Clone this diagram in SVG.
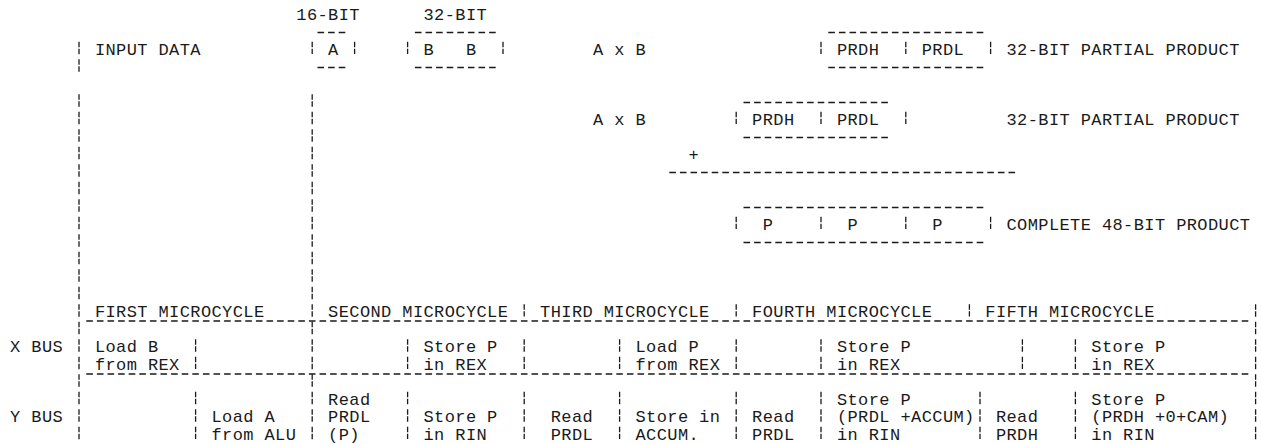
<svg xmlns="http://www.w3.org/2000/svg" width="1261" height="444" viewBox="0 0 1261 444">
<style>
text{font-family:"Liberation Mono","Courier New",monospace;font-size:17px;letter-spacing:0.4px;fill:#1a1a1a}
.h{stroke:#1a1a1a;stroke-width:1.4;stroke-dasharray:6.6 4;fill:none}
.v{stroke:#1a1a1a;stroke-width:1.3;stroke-dasharray:5.5 1.5 5.5 5;fill:none}
</style>
<rect width="1261" height="444" fill="#fff"/>
<g id="connectors">
<path class="v" d="M79 41.75V73.25M79 94.25V447"/>
<path class="v" d="M312.2 94.25V447"/>
</g>
<g id="width-labels">
<text x="296.3" y="19.5">16-BIT</text>
<text x="423.5" y="19.5">32-BIT</text>
</g>
<g id="input-data">
<text x="94.9" y="54.5">INPUT DATA</text>
</g>
<g id="box-a">
<path class="h" d="M317.5 32.5H349M317.5 67.5H349"/>
<path class="v" d="M312.2 41.75V54M354.6 41.75V54"/>
<text x="328.1" y="54.5">A</text>
</g>
<g id="box-b">
<path class="h" d="M414.9 32.5H497M414.9 67.5H497"/>
<path class="v" d="M407.6 41.75V54M503 41.75V54"/>
<text x="423.5" y="54.5">B</text>
<text x="465.9" y="54.5">B</text>
</g>
<g id="axb-1">
<text x="593.1" y="54.5">A x B</text>
</g>
<g id="partial-1">
<path class="h" d="M828.3 32.5H986M828.3 67.5H986"/>
<path class="v" d="M821 41.75V54M905.8 41.75V54M990.6 41.75V54"/>
<text x="836.9" y="54.5">PRDH</text>
<text x="921.7" y="54.5">PRDL</text>
<text x="1006.5" y="54.5">32-BIT PARTIAL PRODUCT</text>
</g>
<g id="axb-2">
<text x="593.1" y="124.5">A x B</text>
</g>
<g id="partial-2">
<path class="h" d="M743.5 102.5H891M743.5 137.5H891"/>
<path class="v" d="M736.2 111.75V124M821 111.75V124M905.8 111.75V124"/>
<text x="752.1" y="124.5">PRDH</text>
<text x="836.9" y="124.5">PRDL</text>
<text x="1006.5" y="124.5">32-BIT PARTIAL PRODUCT</text>
</g>
<g id="sum">
<text x="688.5" y="159.5">+</text>
<path class="h" d="M669.3 172.5H1018"/>
</g>
<g id="product">
<path class="h" d="M743.5 207.5H986M743.5 242.5H986"/>
<path class="v" d="M736.2 216.75V229M821 216.75V229M905.8 216.75V229M990.6 216.75V229"/>
<text x="762.7" y="229.5">P</text>
<text x="847.5" y="229.5">P</text>
<text x="932.3" y="229.5">P</text>
<text x="1006.5" y="229.5">COMPLETE 48-BIT PRODUCT</text>
</g>
<g id="cycle-header">
<path class="v" d="M524.2 304.25V316.5M736.2 304.25V316.5M969.4 304.25V316.5M1255.6 304.25V447"/>
<text x="94.9" y="317">FIRST MICROCYCLE</text>
<text x="328.1" y="317">SECOND MICROCYCLE</text>
<text x="540.1" y="317">THIRD MICROCYCLE</text>
<text x="752.1" y="317">FOURTH MICROCYCLE</text>
<text x="985.3" y="317">FIFTH MICROCYCLE</text>
<path class="h" d="M86.3 321H1249M86.3 374H1249"/>
</g>
<g id="x-bus">
<text x="10.1" y="352">X BUS</text>
<path class="v" d="M195.6 339.25V369M407.6 339.25V369M524.2 339.25V369M619.6 339.25V369M736.2 339.25V369M821 339.25V369M1022.4 339.25V369M1075.4 339.25V369"/>
<text x="94.9" y="352">Load B</text><text x="94.9" y="369.5">from REX</text>
<text x="423.5" y="352">Store P</text><text x="423.5" y="369.5">in REX</text>
<text x="635.5" y="352">Load P</text><text x="635.5" y="369.5">from REX</text>
<text x="836.9" y="352">Store P</text><text x="836.9" y="369.5">in REX</text>
<text x="1091.3" y="352">Store P</text><text x="1091.3" y="369.5">in REX</text>
</g>
<g id="y-bus">
<text x="10.1" y="422">Y BUS</text>
<path class="v" d="M195.6 391.75V439M407.6 391.75V439M524.2 391.75V439M619.6 391.75V439M736.2 391.75V439M821 391.75V439M980 391.75V439M1075.4 391.75V439"/>
<text x="211.5" y="422">Load A</text><text x="211.5" y="439.5">from ALU</text>
<text x="328.1" y="404.5">Read</text><text x="328.1" y="422">PRDL</text><text x="328.1" y="439.5">(P)</text>
<text x="423.5" y="422">Store P</text><text x="423.5" y="439.5">in RIN</text>
<text x="550.7" y="422">Read</text><text x="550.7" y="439.5">PRDL</text>
<text x="635.5" y="422">Store in</text><text x="635.5" y="439.5">ACCUM.</text>
<text x="752.1" y="422">Read</text><text x="752.1" y="439.5">PRDL</text>
<text x="836.9" y="404.5">Store P</text><text x="836.9" y="422">(PRDL +ACCUM)</text><text x="836.9" y="439.5">in RIN</text>
<text x="995.9" y="422">Read</text><text x="995.9" y="439.5">PRDH</text>
<text x="1091.3" y="404.5">Store P</text><text x="1091.3" y="422">(PRDH +0+CAM)</text><text x="1091.3" y="439.5">in RIN</text>
</g>
</svg>
